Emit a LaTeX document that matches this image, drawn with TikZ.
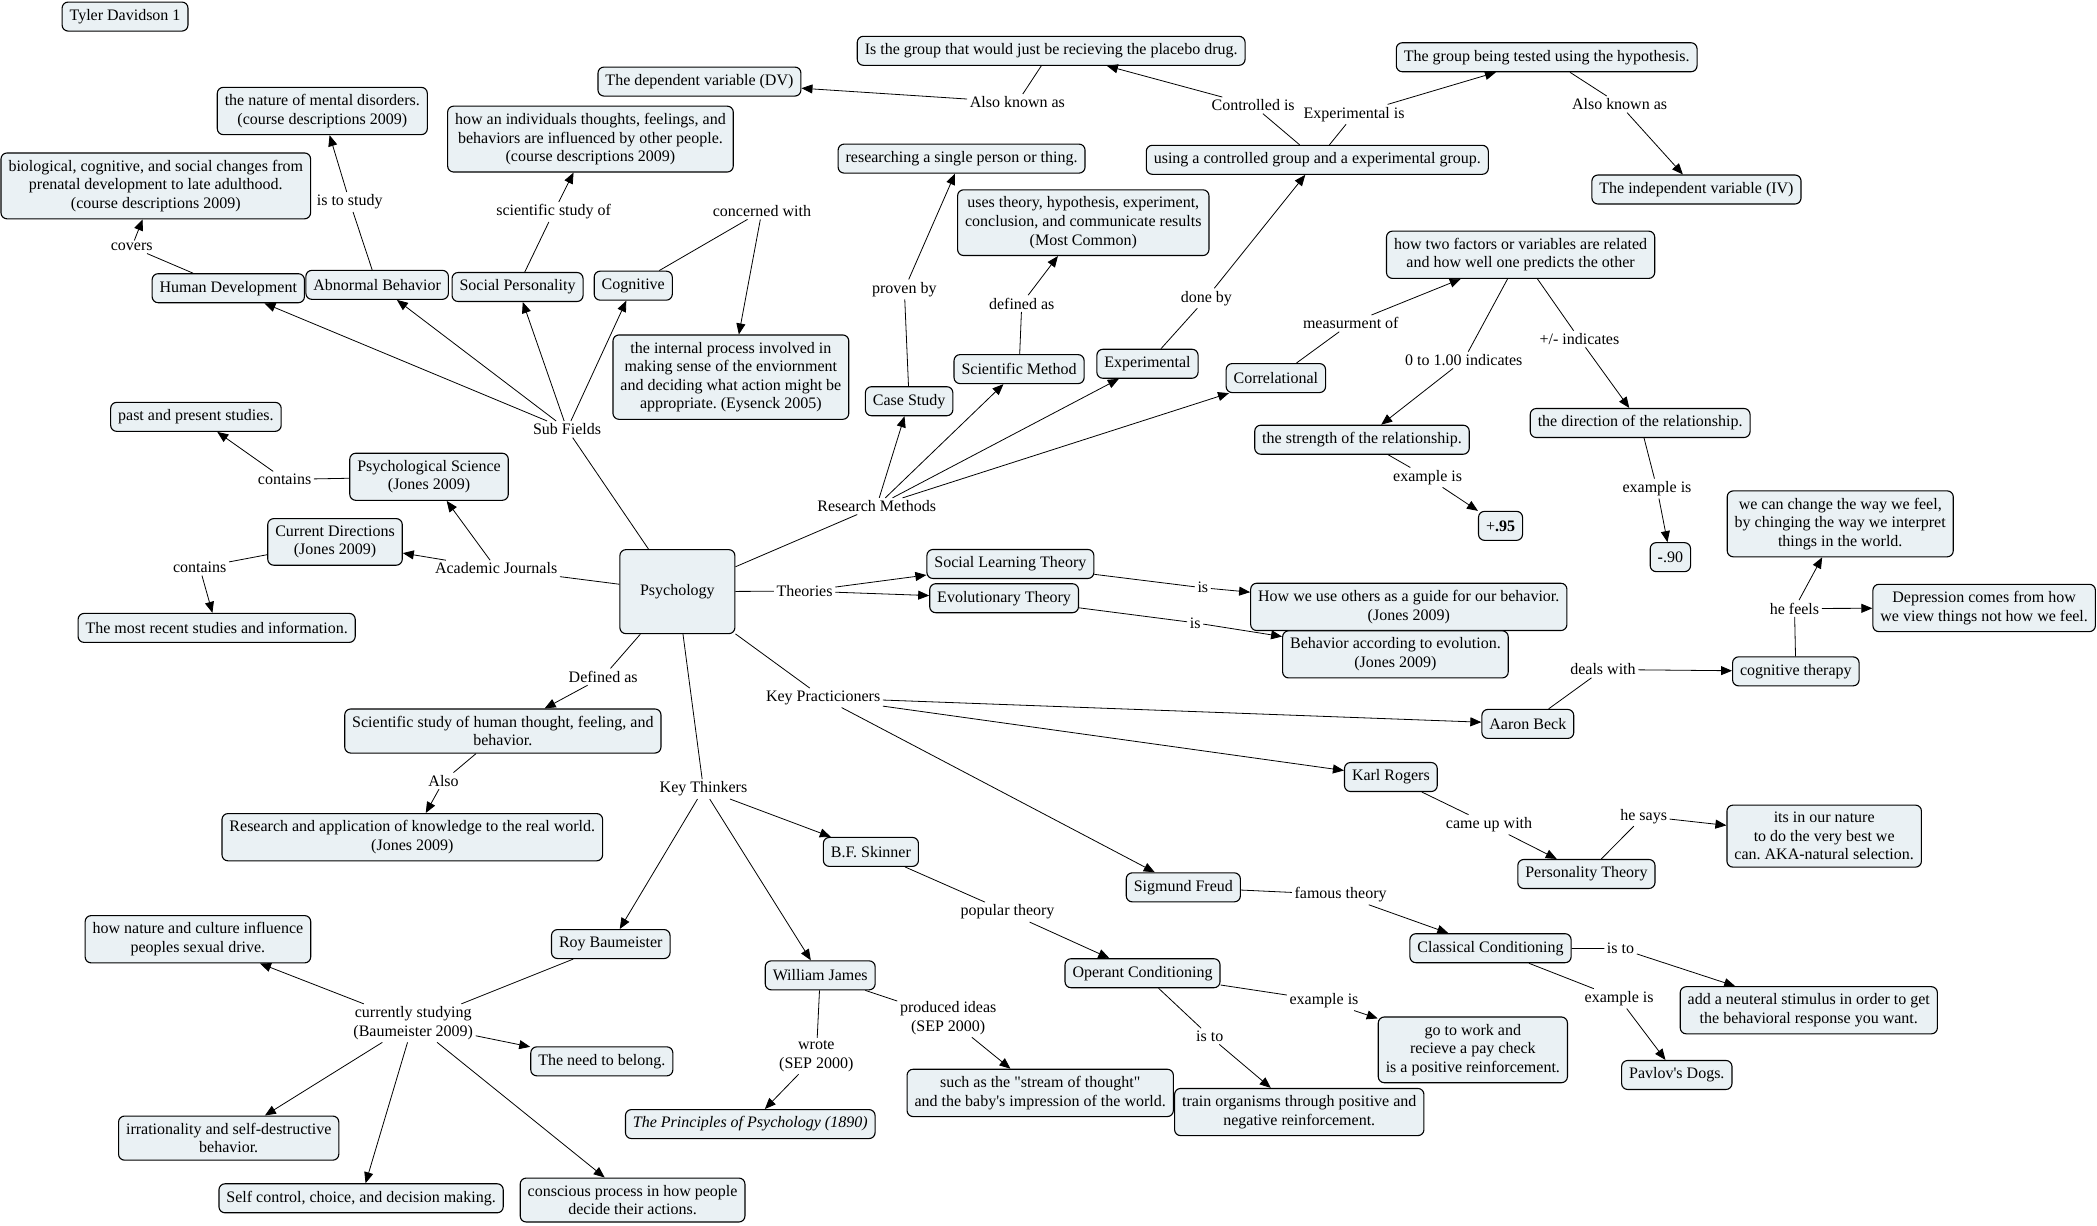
\documentclass[tikz,border=0pt]{standalone}
\usepackage{fontspec}
\setmainfont{Liberation Serif}[Ligatures=TeXOff]
\usepackage{tikz}
\usepackage{xcolor}
\usetikzlibrary{arrows.meta}
\frenchspacing
\definecolor{conceptfill}{HTML}{EAF1F4}
\tikzset{
    concept-box/.style = {draw=black, fill=conceptfill, line width=1.1pt, rectangle, rounded corners=6pt, inner xsep=7.5pt, inner ysep=7pt, minimum height=29pt, align=center},
    link-word/.style = {inner sep=2.5pt, align=center},
    link-line/.style = {line width=0.8pt},
    link-arrow/.style = {line width=0.8pt, -{Triangle[length=11pt,width=9pt]}},
}

\begin{document}
\begin{tikzpicture}[x=1.3374pt, y=-1.3374pt, font=\fontsize{16}{18.6}\selectfont]
\useasboundingbox (0,0) rectangle (1568,916);

\node[concept-box] (author) at (93.5,12.4) {Tyler Davidson 1};
\node[concept-box, minimum width=115pt, minimum height=84pt] (psych) at (506.5,442.4) {Psychology};

% sub fields
\node[link-word] (subfields) at (424,321) {Sub Fields};
\node[concept-box] (humdev) at (170.7,215.5) {Human Development};
\node[concept-box] (abnormal) at (282,213) {Abnormal Behavior};
\node[concept-box] (socpers) at (387,214.6) {Social Personality};
\node[concept-box] (cognitive) at (473.5,213.6) {Cognitive};
\node[link-word] (covers) at (98.5,184.7) {covers};
\node[concept-box] (changes) at (116.5,139) {biological, cognitive, and social changes from\\prenatal development to late adulthood.\\(course descriptions 2009)};
\node[link-word] (istostudy) at (261.5,151) {is to study};
\node[concept-box] (disorders) at (241,83) {the nature of mental disorders.\\(course descriptions 2009)};
\node[link-word] (scistudy) at (414,158.5) {scientific study of};
\node[concept-box] (influence) at (441.5,104) {how an individuals thoughts, feelings, and\\behaviors are influenced by other people.\\(course descriptions 2009)};
\node[link-word] (concerned) at (569.7,157.8) {concerned with};
\node[concept-box] (internal) at (546.5,282) {the internal process involved in\\making sense of the enviornment\\and deciding what action might be\\appropriate. (Eysenck 2005)};

% journals
\node[link-word] (journals) at (371,425.1) {Academic Journals};
\node[concept-box] (psychsci) at (320.8,356.5) {Psychological Science\\(Jones 2009)};
\node[concept-box] (curdir) at (250.5,405.2) {Current Directions\\(Jones 2009)};
\node[link-word] (contains1) at (212.8,358.5) {contains};
\node[link-word] (contains2) at (149.3,424.3) {contains};
\node[concept-box] (pastpresent) at (146.5,311.7) {past and present studies.};
\node[concept-box] (recent) at (162,469.5) {The most recent studies and information.};

% definition
\node[link-word] (definedas) at (451,506.1) {Defined as};
\node[concept-box] (definition) at (376,546.6) {Scientific study of human thought, feeling, and\\behavior.};
\node[link-word] (also) at (331.7,583.9) {Also};
\node[concept-box] (application) at (308.3,626) {Research and application of knowledge to the real world.\\(Jones 2009)};

% key thinkers
\node[link-word] (thinkers) at (526,590) {Key Thinkers};
\node[concept-box] (baumeister) at (456.7,705.9) {Roy Baumeister};
\node[concept-box] (james) at (613.3,729.3) {William James};
\node[concept-box] (skinner) at (651.2,637) {B.F. Skinner};
\node[link-word] (studying) at (309,765) {currently studying\\(Baumeister 2009)};
\node[concept-box] (sexdrive) at (148,702.3) {how nature and culture influence\\peoples sexual drive.};
\node[concept-box] (belong) at (450,793.6) {The need to belong.};
\node[concept-box] (irrational) at (171,851) {irrationality and self-destructive\\behavior.};
\node[concept-box] (selfcontrol) at (270,896) {Self control, choice, and decision making.};
\node[concept-box] (conscious) at (473,897.3) {conscious process in how people\\decide their actions.};
\node[link-word] (wrote) at (610.4,789.6) {wrote\\(SEP 2000)};
\node[concept-box] (principles) at (561,840.5) {\textit{The Principles of Psychology (1890)}};
\node[link-word] (produced) at (709,761.2) {produced ideas\\(SEP 2000)};
\node[concept-box] (stream) at (777.8,817.2) {such as the "stream of thought"\\and the baby's impression of the world.};
\node[link-word] (popular) at (753.4,682) {popular theory};
\node[concept-box] (operant) at (854.3,727.7) {Operant Conditioning};
\node[link-word] (opexample) at (990,748.2) {example is};
\node[concept-box] (paycheck) at (1101.3,785) {go to work and\\recieve a pay check\\is a positive reinforcement.};
\node[link-word] (opisto) at (904.6,774.9) {is to};
\node[concept-box] (reinforce) at (971.5,831.5) {train organisms through positive and\\negative reinforcement.};

% key practicioners
\node[link-word] (practicioners) at (615.5,521.8) {Key Practicioners};
\node[concept-box] (beck) at (1142.4,541.3) {Aaron Beck};
\node[concept-box] (rogers) at (1040,581) {Karl Rogers};
\node[concept-box] (freud) at (884.8,663.5) {Sigmund Freud};
\node[link-word] (dealswith) at (1198.6,500.6) {deals with};
\node[concept-box] (therapy) at (1342.8,502) {cognitive therapy};
\node[link-word] (hefeels) at (1341.8,455) {he feels};
\node[concept-box] (changeway) at (1376,391.7) {we can change the way we feel,\\by chinging the way we interpret\\things in the world.};
\node[concept-box, anchor=east] (depression) at (1567.2,454.6) {Depression comes from how\\we view things not how we feel.};
\node[link-word] (cameup) at (1113.4,616.6) {came up with};
\node[concept-box] (personality) at (1186.2,653.5) {Personality Theory};
\node[link-word] (hesays) at (1229,610.3) {he says};
\node[concept-box] (nature) at (1364,625.2) {its in our nature\\to do the very best we\\can. AKA-natural selection.};
\node[link-word] (famous) at (1002.4,669) {famous theory};
\node[concept-box] (classical) at (1114.5,709) {Classical Conditioning};
\node[link-word] (ccisto) at (1211.7,709.3) {is to};
\node[concept-box] (stimulus) at (1352.5,755.4) {add a neuteral stimulus in order to get\\the behavioral response you want.};
\node[link-word] (ccexample) at (1210.7,746.7) {example is};
\node[concept-box] (pavlov) at (1253.8,803.8) {Pavlov's Dogs.};

% theories
\node[link-word] (theories) at (601.6,442) {Theories};
\node[concept-box] (sociallearning) at (755.5,421.7) {Social Learning Theory};
\node[concept-box] (evolutionary) at (750.8,447.3) {Evolutionary Theory};
\node[link-word] (is1) at (899.4,439.5) {is};
\node[link-word] (is2) at (893.7,465.7) {is};
\node[concept-box] (guide) at (1053.4,453.8) {How we use others as a guide for our behavior.\\(Jones 2009)};
\node[concept-box] (evolution) at (1043.4,489.3) {Behavior according to evolution.\\(Jones 2009)};

% research methods
\node[link-word] (methods) at (655.5,378.5) {Research Methods};
\node[concept-box] (casestudy) at (679.8,300) {Case Study};
\node[concept-box] (scimethod) at (762,276) {Scientific Method};
\node[concept-box] (experimental) at (858,272) {Experimental};
\node[concept-box] (correlational) at (954,282.7) {Correlational};
\node[link-word] (provenby) at (676.2,216.4) {proven by};
\node[concept-box] (single) at (719,118.6) {researching a single person or thing.};
\node[link-word] (definedas2) at (764,227) {defined as};
\node[concept-box] (steps) at (810,166.5) {uses theory, hypothesis, experiment,\\conclusion, and communicate results\\(Most Common)};
\node[link-word] (doneby) at (902,223) {done by};
\node[concept-box] (groups) at (985,119.5) {using a controlled group and a experimental group.};
\node[link-word] (controlledis) at (937,78.8) {Controlled is};
\node[link-word] (experimentalis) at (1012.5,85.5) {Experimental is};
\node[concept-box] (placebo) at (786,38) {Is the group that would just be recieving the placebo drug.};
\node[concept-box] (tested) at (1156.5,42.8) {The group being tested using the hypothesis.};
\node[link-word] (aka1) at (760.7,76.5) {Also known as};
\node[concept-box] (dv) at (523,61) {The dependent variable (DV)};
\node[link-word] (aka2) at (1211,78) {Also known as};
\node[concept-box] (iv) at (1268.5,141.7) {The independent variable (IV)};
\node[link-word] (measure) at (1010,241.8) {measurment of};
\node[concept-box] (factors) at (1137,190.5) {how two factors or variables are related\\and how well one predicts the other};
\node[link-word] (range) at (1094.5,269.2) {0 to 1.00 indicates};
\node[link-word] (sign) at (1181,253.5) {+/- indicates};
\node[concept-box] (strength) at (1018.4,328.8) {the strength of the relationship.};
\node[concept-box] (direction) at (1226.4,316.3) {the direction of the relationship.};
\node[link-word] (example1) at (1067.5,357) {example is};
\node[link-word] (example2) at (1239,365.3) {example is};
\node[concept-box] (pos) at (1122,393.2) {+\textbf{.95}};
\node[concept-box] (neg) at (1249,416.6) {\textbf{-}.90};

% links
\draw[link-line] (psych) -- (subfields);
\foreach \to in {humdev,abnormal,socpers,cognitive} \draw[link-arrow] (subfields) -- (\to);
\draw[link-line] (humdev) -- (covers);
\draw[link-arrow] (covers) -- (changes);
\draw[link-line] (abnormal) -- (istostudy);
\draw[link-arrow] (istostudy) -- (disorders);
\draw[link-line] (socpers) -- (scistudy);
\draw[link-arrow] (scistudy) -- (influence);
\draw[link-line] (cognitive) -- (concerned);
\draw[link-arrow] (concerned) -- (internal);

\draw[link-line] (psych) -- (journals);
\draw[link-arrow] (journals) -- (psychsci);
\draw[link-arrow] (journals) -- (curdir);
\draw[link-line] (psychsci) -- (contains1);
\draw[link-arrow] (contains1) -- (pastpresent);
\draw[link-line] (curdir) -- (contains2);
\draw[link-arrow] (contains2) -- (recent);

\draw[link-line] (psych) -- (definedas);
\draw[link-arrow] (definedas) -- (definition);
\draw[link-line] (definition) -- (also);
\draw[link-arrow] (also) -- (application);

\draw[link-line] (psych) -- (thinkers);
\foreach \to in {baumeister,james,skinner} \draw[link-arrow] (thinkers) -- (\to);
\draw[link-line] (baumeister) -- (studying);
\foreach \to in {sexdrive,belong,irrational,selfcontrol,conscious} \draw[link-arrow] (studying) -- (\to);
\draw[link-line] (james) -- (wrote);
\draw[link-arrow] (wrote) -- (principles);
\draw[link-line] (james) -- (produced);
\draw[link-arrow] (produced) -- (stream);
\draw[link-line] (skinner) -- (popular);
\draw[link-arrow] (popular) -- (operant);
\draw[link-line] (operant) -- (opexample);
\draw[link-arrow] (opexample) -- (paycheck);
\draw[link-line] (operant) -- (opisto);
\draw[link-arrow] (opisto) -- (reinforce);

\draw[link-line] (psych) -- (practicioners);
\foreach \to in {beck,rogers,freud} \draw[link-arrow] (practicioners) -- (\to);
\draw[link-line] (beck) -- (dealswith);
\draw[link-arrow] (dealswith) -- (therapy);
\draw[link-line] (therapy) -- (hefeels);
\draw[link-arrow] (hefeels) -- (changeway);
\draw[link-arrow] (hefeels) -- (depression);
\draw[link-line] (rogers) -- (cameup);
\draw[link-arrow] (cameup) -- (personality);
\draw[link-line] (personality) -- (hesays);
\draw[link-arrow] (hesays) -- (nature);
\draw[link-line] (freud) -- (famous);
\draw[link-arrow] (famous) -- (classical);
\draw[link-line] (classical) -- (ccisto);
\draw[link-arrow] (ccisto) -- (stimulus);
\draw[link-line] (classical) -- (ccexample);
\draw[link-arrow] (ccexample) -- (pavlov);

\draw[link-line] (psych) -- (theories);
\draw[link-arrow] (theories) -- (sociallearning);
\draw[link-arrow] (theories) -- (evolutionary);
\draw[link-line] (sociallearning) -- (is1);
\draw[link-arrow] (is1) -- (guide);
\draw[link-line] (evolutionary) -- (is2);
\draw[link-arrow] (is2) -- (evolution);

\draw[link-line] (psych) -- (methods);
\foreach \to in {casestudy,scimethod,experimental,correlational} \draw[link-arrow] (methods) -- (\to);
\draw[link-line] (casestudy) -- (provenby);
\draw[link-arrow] (provenby) -- (single);
\draw[link-line] (scimethod) -- (definedas2);
\draw[link-arrow] (definedas2) -- (steps);
\draw[link-line] (experimental) -- (doneby);
\draw[link-arrow] (doneby) -- (groups);
\draw[link-line] (groups) -- (controlledis);
\draw[link-arrow] (controlledis) -- (placebo);
\draw[link-line] (groups) -- (experimentalis);
\draw[link-arrow] (experimentalis) -- (tested);
\draw[link-line] (placebo) -- (aka1);
\draw[link-arrow] (aka1) -- (dv);
\draw[link-line] (tested) -- (aka2);
\draw[link-arrow] (aka2) -- (iv);
\draw[link-line] (correlational) -- (measure);
\draw[link-arrow] (measure) -- (factors);
\draw[link-line] (factors) -- (range);
\draw[link-arrow] (range) -- (strength);
\draw[link-line] (factors) -- (sign);
\draw[link-arrow] (sign) -- (direction);
\draw[link-line] (strength) -- (example1);
\draw[link-arrow] (example1) -- (pos);
\draw[link-line] (direction) -- (example2);
\draw[link-arrow] (example2) -- (neg);
\end{tikzpicture}
\end{document}
